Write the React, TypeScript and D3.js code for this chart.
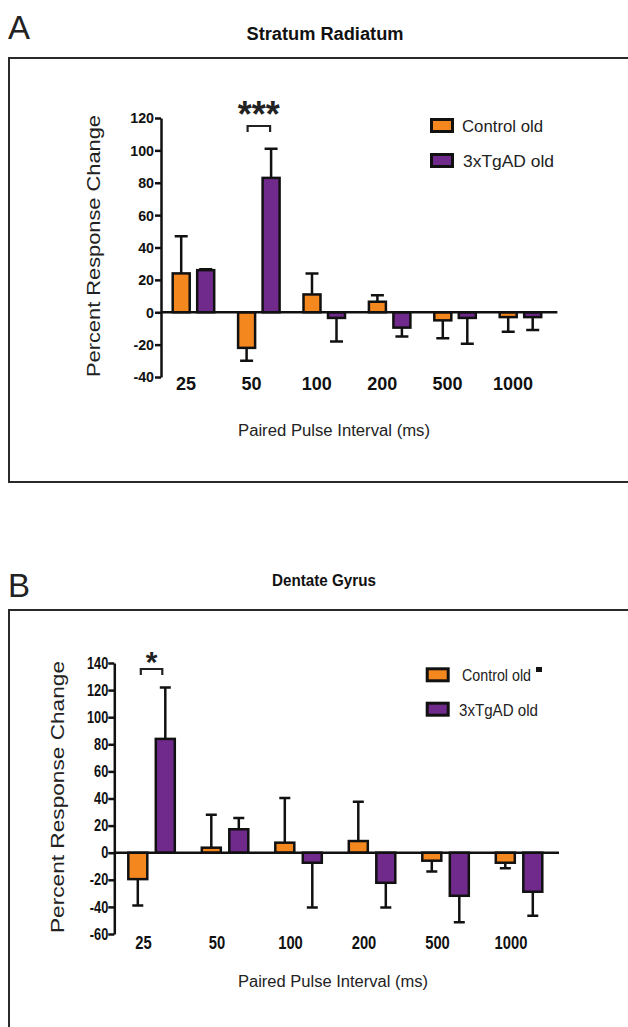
import { useEffect, useRef } from "react";
import * as d3 from "d3";

const intervals = ["25", "50", "100", "200", "500", "1000"];
const seriesNames = ["Control old", "3xTgAD old"];
const colors = ["#F5871F", "#702A8C"];

// Stratum Radiatum (A)
const srControl = [24, -22, 11, 6.5, -5, -3];
const srControlSem = [23, 8, 13, 4, 11, 9];
const srTg = [26, 83, -3.5, -9.5, -3.5, -3];
const srTgSem = [0.5, 18, 14.5, 5.5, 16, 8];
const srTicks = [-40, -20, 0, 20, 40, 60, 80, 100, 120];

// Dentate Gyrus (B)
const dgControl = [-19.5, 3.7, 7.4, 8.6, -5.9, -7.4];
const dgControlSem = [19.5, 24.3, 33, 29, 8, 4];
const dgTg = [84, 17.3, -7.4, -22.2, -31.8, -28.8];
const dgTgSem = [38, 8.3, 33, 18.2, 19.6, 17.8];
const dgTicks = [-60, -40, -20, 0, 20, 40, 60, 80, 100, 120, 140];

const FONT = "'Liberation Sans', Arial, sans-serif";

function drawPanel(svg: any, p: any) {
  const g = svg.append("g");

  // panel letter + title
  g.append("text")
    .attr("x", 8)
    .attr("y", p.letterY)
    .attr("font-size", 33)
    .attr("fill", "#222")
    .text(p.letter);
  g.append("text")
    .attr("x", p.titleX)
    .attr("y", p.titleY)
    .attr("font-size", p.titleSize)
    .attr("font-weight", "bold")
    .attr("text-anchor", "middle")
    .attr("textLength", p.titleLen)
    .attr("lengthAdjust", "spacingAndGlyphs")
    .attr("fill", "#111")
    .text(p.title);

  // frame
  g.append("rect")
    .attr("x", 9)
    .attr("y", p.frameTop)
    .attr("width", 660)
    .attr("height", p.frameBottom - p.frameTop)
    .attr("fill", "none")
    .attr("stroke", "#2a2a2a")
    .attr("stroke-width", 2);

  const y = d3.scaleLinear().domain(p.domain).range(p.yRange);
  const x = d3.scaleBand().domain(intervals).range(p.xRange);
  const sub = d3
    .scaleBand()
    .domain(["c", "t"])
    .range([p.barOffset, p.barOffset + p.barWidth * 2 + p.barGap])
    .paddingInner(p.barGap / (p.barWidth + p.barGap));
  const bw = sub.bandwidth();

  // y axis
  const axis = g
    .append("g")
    .attr("transform", `translate(${p.axisX},0)`)
    .call(
      d3
        .axisLeft(y)
        .tickValues(p.ticks)
        .tickSize(6)
        .tickSizeOuter(0)
        .tickFormat((d: any) => String(d))
    );
  axis.select(".domain").attr("stroke", "#111").attr("stroke-width", 2.5);
  axis.selectAll(".tick line").attr("stroke", "#111").attr("stroke-width", 2.5);
  axis
    .selectAll(".tick text")
    .attr("font-family", FONT)
    .attr("font-weight", "bold")
    .attr("font-size", p.tickSize)
    .attr("fill", "#111")
    .attr("x", -p.tickGap / p.tickScale)
    .attr("transform", `scale(${p.tickScale},1)`);

  // y label
  g.append("text")
    .attr("transform", `translate(${p.yLabelX},${p.yLabelY}) rotate(-90)`)
    .attr("text-anchor", "middle")
    .attr("font-size", p.yLabelSize)
    .attr("textLength", p.yLabelLen)
    .attr("lengthAdjust", "spacingAndGlyphs")
    .attr("fill", "#222")
    .text("Percent Response Change");

  const rows = intervals.map((k, i) => ({
    k,
    vals: [
      { s: "c", v: p.control[i], e: p.controlSem[i], color: colors[0] },
      { s: "t", v: p.tg[i], e: p.tgSem[i], color: colors[1] },
    ],
  }));

  const groups = g
    .selectAll(".grp")
    .data(rows)
    .enter()
    .append("g")
    .attr("transform", (d: any) => `translate(${x(d.k)},0)`);

  // error bars (one-sided, away from zero)
  groups
    .selectAll(".err")
    .data((d: any) => d.vals)
    .enter()
    .append("path")
    .attr("d", (d: any) => {
      const cx = (sub(d.s) as number) + bw / 2;
      const tip = d.v >= 0 ? d.v + d.e : d.v - d.e;
      return `M${cx},${y(d.v)}V${y(tip)}M${cx - p.capW / 2},${y(tip)}H${cx + p.capW / 2}`;
    })
    .attr("stroke", "#111")
    .attr("stroke-width", 2.5)
    .attr("fill", "none");

  groups
    .selectAll(".bar")
    .data((d: any) => d.vals)
    .enter()
    .append("rect")
    .attr("x", (d: any) => sub(d.s) as number)
    .attr("width", bw)
    .attr("y", (d: any) => y(Math.max(0, d.v)))
    .attr("height", (d: any) => Math.abs(y(d.v) - y(0)))
    .attr("fill", (d: any) => d.color)
    .attr("stroke", "#111")
    .attr("stroke-width", 2.5);

  // zero line
  g.append("line")
    .attr("x1", p.axisX)
    .attr("x2", p.xRange[1])
    .attr("y1", y(0))
    .attr("y2", y(0))
    .attr("stroke", "#111")
    .attr("stroke-width", 2.5);

  // x category labels
  groups
    .append("text")
    .attr("transform", `translate(${p.labelOffset},${p.labelY}) scale(${p.xTickScale},1)`)
    .attr("text-anchor", "middle")
    .attr("font-size", p.xTickSize)
    .attr("font-weight", "bold")
    .attr("fill", "#111")
    .text((d: any) => d.k);

  // x title
  g.append("text")
    .attr("x", p.xTitleX)
    .attr("y", p.xTitleY)
    .attr("font-size", 16)
    .attr("textLength", p.xTitleLen)
    .attr("lengthAdjust", "spacingAndGlyphs")
    .attr("fill", "#222")
    .text("Paired Pulse Interval (ms)");

  // significance bracket
  const bx1 = (x(p.sigAt) as number) + (sub("c") as number) + bw / 2 + p.bracketInset;
  const bx2 = (x(p.sigAt) as number) + (sub("t") as number) + bw / 2 - p.bracketInset;
  g.append("path")
    .attr("d", `M${bx1},${p.bracketY + 6}V${p.bracketY}H${bx2}V${p.bracketY + 6}`)
    .attr("fill", "none")
    .attr("stroke", "#222")
    .attr("stroke-width", 2.2);
  g.append("text")
    .attr("x", (bx1 + bx2) / 2)
    .attr("y", p.starY)
    .attr("text-anchor", "middle")
    .attr("font-size", p.starSize)
    .attr("font-weight", "bold")
    .attr("fill", "#222")
    .text(p.stars);

  // legend
  seriesNames.forEach((name, i) => {
    const ly = p.legendY[i];
    g.append("rect")
      .attr("x", p.legendX + 1.5)
      .attr("y", ly + 1.5)
      .attr("width", 21)
      .attr("height", 12)
      .attr("fill", colors[i])
      .attr("stroke", "#111")
      .attr("stroke-width", 3);
    g.append("text")
      .attr("x", p.legendTextX[i])
      .attr("y", ly + 14)
      .attr("font-size", 16)
      .attr("textLength", p.legendLen[i])
      .attr("lengthAdjust", "spacingAndGlyphs")
      .attr("fill", "#222")
      .text(name);
  });
  if (p.legendMark) {
    g.append("rect")
      .attr("x", p.legendMark[0])
      .attr("y", p.legendMark[1])
      .attr("width", 6)
      .attr("height", 5)
      .attr("fill", "#111");
  }
}

export default function App() {
  const ref = useRef<SVGSVGElement | null>(null);

  useEffect(() => {
    const svg = d3.select(ref.current);
    svg.selectAll("*").remove();
    svg.attr("font-family", FONT);

    drawPanel(svg, {
      letter: "A",
      letterY: 39,
      title: "Stratum Radiatum",
      titleX: 325,
      titleY: 40,
      titleSize: 18,
      titleLen: 157,
      frameTop: 58,
      frameBottom: 482,
      domain: [-40, 120],
      yRange: [377, 118],
      ticks: srTicks,
      axisX: 161,
      xRange: [165, 557.4],
      barOffset: 7.7,
      barWidth: 17,
      barGap: 7.5,
      capW: 13,
      tickSize: 15.5,
      tickScale: 0.92,
      tickGap: 7,
      xTickSize: 18,
      xTickScale: 1,
      labelOffset: 21,
      labelY: 390,
      yLabelX: 100,
      yLabelY: 246,
      yLabelSize: 19,
      yLabelLen: 262,
      xTitleX: 238,
      xTitleY: 436,
      xTitleLen: 192,
      control: srControl,
      controlSem: srControlSem,
      tg: srTg,
      tgSem: srTgSem,
      sigAt: "50",
      stars: "***",
      starSize: 36,
      starY: 127,
      bracketY: 126,
      bracketInset: 1,
      legendX: 430,
      legendY: [118, 153],
      legendTextX: [462, 463],
      legendLen: [81, 91],
      legendMark: null,
    });

    drawPanel(svg, {
      letter: "B",
      letterY: 597,
      title: "Dentate Gyrus",
      titleX: 324,
      titleY: 586,
      titleSize: 17,
      titleLen: 104,
      frameTop: 610,
      frameBottom: 1100,
      domain: [-60, 140],
      yRange: [934, 663],
      ticks: dgTicks,
      axisX: 114.3,
      xRange: [118, 559],
      barOffset: 10.3,
      barWidth: 19,
      barGap: 8.5,
      capW: 11,
      tickSize: 16,
      tickScale: 0.8,
      tickGap: 6,
      xTickSize: 18,
      xTickScale: 0.82,
      labelOffset: 25.5,
      labelY: 949,
      yLabelX: 64,
      yLabelY: 797,
      yLabelSize: 19,
      yLabelLen: 272,
      xTitleX: 238,
      xTitleY: 987,
      xTitleLen: 190,
      control: dgControl,
      controlSem: dgControlSem,
      tg: dgTg,
      tgSem: dgTgSem,
      sigAt: "25",
      stars: "*",
      starSize: 30,
      starY: 672,
      bracketY: 669,
      bracketInset: 3,
      legendX: 425.7,
      legendY: [667.3, 701.7],
      legendTextX: [462, 459],
      legendLen: [69, 79],
      legendMark: [536, 667],
    });
  }, []);

  return (
    <svg
      ref={ref}
      width={628}
      height={1027}
      style={{ position: "absolute", left: 0, top: 0, background: "#fff" }}
    />
  );
}
